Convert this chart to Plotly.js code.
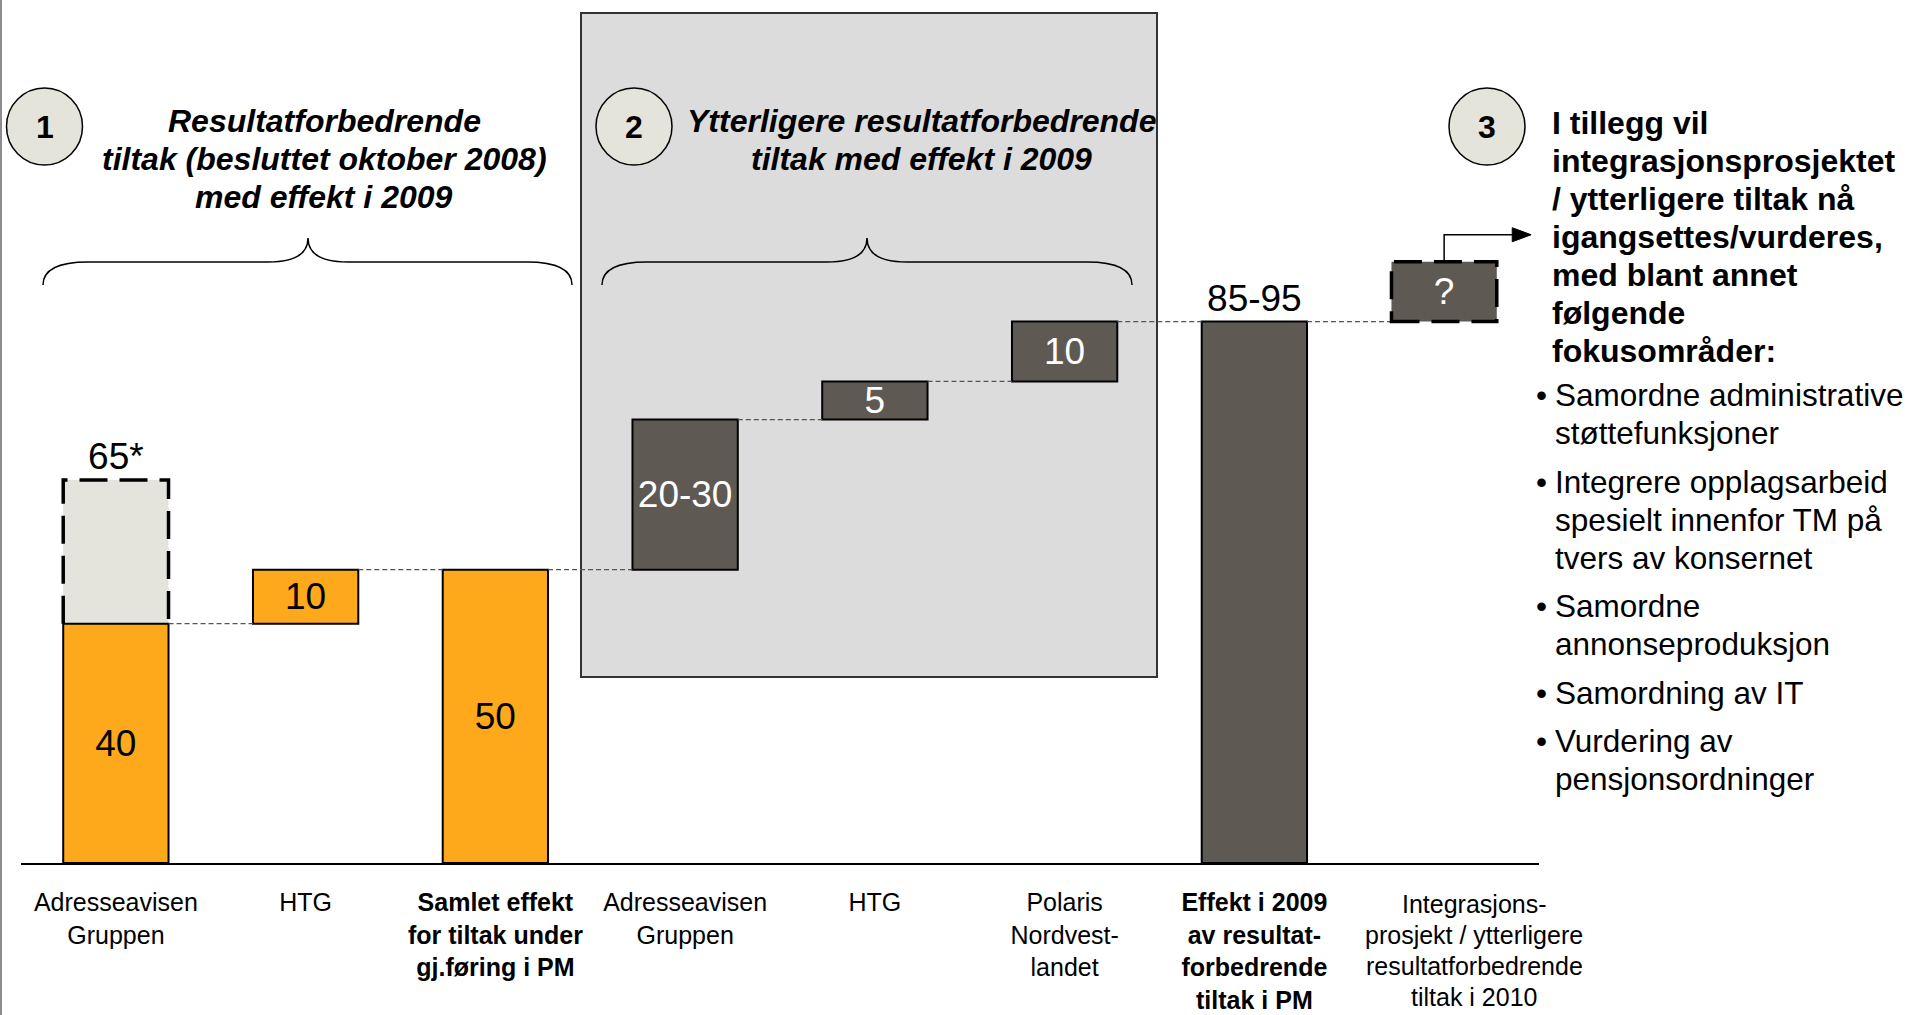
<!DOCTYPE html>
<html><head><meta charset="utf-8">
<script src="https://cdn.plot.ly/plotly-3.0.1.min.js"></script>
<style>html,body{margin:0;padding:0;background:#fff;}#chart{width:1915px;height:1015px;}</style>
</head><body><div id="chart"></div>
<script>
// ---------------- DATA ----------------
const categories = [
  'Adresseavisen<br>Gruppen',
  'HTG',
  '<b>Samlet effekt<br>for tiltak under<br>gj.føring i PM</b>',
  'Adresseavisen<br>Gruppen',
  'HTG',
  'Polaris<br>Nordvest-<br>landet',
  '<b>Effekt i 2009<br>av resultat-<br>forbedrende<br>tiltak i PM</b>',
  'Integrasjons-<br>prosjekt / ytterligere<br>resultatforbedrende<br>tiltak i 2010'
];
const measures = ['absolute','relative','total','relative','relative','relative','total','relative'];
const values = [40.8, 9.2, 50, 25.6, 6.5, 10.2, 92.3, 10.2];
const valueLabels = ['40','10','50','20-30','5','10','85-95','?'];
const series = ['besluttet','besluttet','besluttet','ytterligere','ytterligere','ytterligere','total','integrasjon'];
const uncertain = [false,false,false,false,false,false,false,true];
const potentialTotal = 65.3;      // dashed "65*" bar on Adresseavisen Gruppen
const potentialLabel = '65*';

const title1Lines = ['Resultatforbedrende','tiltak (besluttet oktober 2008)','med effekt i 2009'];
const title2Lines = ['Ytterligere resultatforbedrende','tiltak med effekt i 2009'];
const sideHeading = ['I tillegg vil','integrasjonsprosjektet','/ ytterligere tiltak nå','igangsettes/vurderes,','med blant annet','følgende','fokusområder:'];
const sideBullets = [
  ['Samordne administrative','støttefunksjoner'],
  ['Integrere opplagsarbeid','spesielt innenfor TM på','tvers av konsernet'],
  ['Samordne','annonseproduksjon'],
  ['Samordning av IT'],
  ['Vurdering av','pensjonsordninger']
];

// ---------------- STYLE / LAYOUT ----------------
const FONT = 'Liberation Sans, Arial, Helvetica, sans-serif';
const W = 1915, H = 1015, ML = 21, MR = 376, MT = 0, MB = 152;
const PW = W - ML - MR, PH = H - MT - MB;
const PX_PER_UNIT = 5.866;
const YMAX = PH / PX_PER_UNIT;
const BW = 0.555;
const colorMap = {besluttet:'#FDA91B', ytterligere:'#5F5954', total:'#5F5954', integrasjon:'#5F5954'};
const px = x => (x - ML) / PW;
const py = y => (MT + PH - y) / PH;

// waterfall bases
const xs = categories.map((_, i) => i);
const bases = [], tops = [];
let running = 0;
measures.forEach((m, i) => {
  if (m === 'absolute') { bases.push(0); running = values[i]; }
  else if (m === 'relative') { bases.push(running); running += values[i]; }
  else { bases.push(0); running = values[i]; }
  tops.push(bases[i] + values[i]);
});

const textPos = series.map(s => s === 'total' ? 'outside' : 'inside');
const textCol = series.map((s, i) => (s === 'besluttet' || textPos[i] === 'outside') ? '#000' : '#fff');

const ghost = {
  type: 'bar', x: [0], base: [tops[0]], y: [potentialTotal - tops[0]], width: BW,
  marker: {color: '#E4E4DC', line: {width: 0}},
  text: [potentialLabel], textposition: 'outside', textangle: 0,
  textfont: {family: FONT, size: 37, color: '#000'}, constraintext: 'none',
  cliponaxis: false, hoverinfo: 'skip', showlegend: false
};
const main = {
  type: 'bar', x: xs, base: bases, y: values, width: BW,
  marker: {color: series.map(s => colorMap[s]),
           line: {color: '#000', width: uncertain.map(u => u ? 0 : 2)}},
  text: valueLabels, textposition: textPos, insidetextanchor: 'middle', textangle: 0,
  textfont: {family: FONT, size: 37, color: textCol}, constraintext: 'none',
  cliponaxis: false, hoverinfo: 'skip', showlegend: false
};

const shapes = [];
// left page border
shapes.push({type:'line', xref:'paper', yref:'paper', x0:px(1), x1:px(1), y0:py(0), y1:py(H), line:{color:'#8c8c8c', width:2}});
// grey box for phase 2
shapes.push({type:'rect', layer:'below', xref:'paper', yref:'paper', x0:px(581), x1:px(1157), y0:py(677), y1:py(13),
  fillcolor:'#DCDCDC', line:{color:'#333', width:2}});
// braces
function bracePath(x0, x1, xm, yEnd, yMid, yTip) {
  const r = 45, t = 40;
  const X = px, Y = py;
  return `M${X(x0)},${Y(yEnd)} Q${X(x0)},${Y(yMid)} ${X(x0+r)},${Y(yMid)} L${X(xm-t)},${Y(yMid)} ` +
         `Q${X(xm)},${Y(yMid)} ${X(xm)},${Y(yTip)} Q${X(xm)},${Y(yMid)} ${X(xm+t)},${Y(yMid)} ` +
         `L${X(x1-r)},${Y(yMid)} Q${X(x1)},${Y(yMid)} ${X(x1)},${Y(yEnd)}`;
}
shapes.push({type:'path', xref:'paper', yref:'paper', path: bracePath(43, 572, 308, 285, 262, 238), line:{color:'#000', width:1.5}});
shapes.push({type:'path', xref:'paper', yref:'paper', path: bracePath(602, 1132, 867, 285, 262, 238), line:{color:'#000', width:1.5}});
// numbered circles
const circles = [[44.5, 126.5, '1'], [634, 126.5, '2'], [1487, 126.5, '3']];
circles.forEach(c => shapes.push({type:'circle', xref:'paper', yref:'paper',
  x0:px(c[0]-38), x1:px(c[0]+38), y0:py(c[1]+38.5), y1:py(c[1]-38.5),
  fillcolor:'#E4E4DA', line:{color:'#000', width:1.5}}));
// connectors
for (let i = 0; i < xs.length - 1; i++) {
  shapes.push({type:'line', xref:'x', yref:'y', x0: xs[i] + BW/2, x1: xs[i+1] - BW/2, y0: tops[i], y1: tops[i],
    line:{color:'#555', width:1.2, dash:'5px,3px'}});
}
// dashed outline of potential bar
shapes.push({type:'path', xref:'x', yref:'y',
  path:`M${xs[0]-BW/2},${tops[0]} L${xs[0]-BW/2},${potentialTotal} L${xs[0]+BW/2},${potentialTotal} L${xs[0]+BW/2},${tops[0]}`,
  line:{color:'#000', width:3.5, dash:'28px,12px'}});
// dashed outlines of uncertain bars
xs.forEach(i => { if (uncertain[i]) shapes.push({type:'rect', xref:'x', yref:'y',
  x0: i - BW/2, x1: i + BW/2, y0: bases[i], y1: tops[i], line:{color:'#000', width:3.5, dash:'28px,12px'}}); });
// elbow arrow from "?" bar to the side text
const last = xs.length - 1;
const arrowY = tops[last] + 27 / PX_PER_UNIT;
const arrowEnd = last + 70 / (PW / xs.length);
const arrowTip = last + 87 / (PW / xs.length);
const headH = 7 / PX_PER_UNIT;
shapes.push({type:'path', xref:'x', yref:'y', path:`M${last},${tops[last]} L${last},${arrowY} L${arrowEnd},${arrowY}`,
  line:{color:'#000', width:1.5}});
shapes.push({type:'path', xref:'x', yref:'y', path:`M${arrowEnd-0.01},${arrowY-headH} L${arrowTip},${arrowY} L${arrowEnd-0.01},${arrowY+headH} Z`,
  fillcolor:'#000', line:{color:'#000', width:1}});

// annotations
const ann = [];
circles.forEach(c => ann.push({xref:'paper', yref:'paper', x:px(c[0]), y:py(c[1]+1), text:c[2], showarrow:false,
  xanchor:'center', yanchor:'middle', font:{family:FONT, size:32, weight:'bold', color:'#000'}}));
title1Lines.forEach((t, k) => ann.push({xref:'paper', yref:'paper', x:px(324), y:py(121 + 38*k), text:t, showarrow:false,
  xanchor:'center', yanchor:'middle', font:{family:FONT, size:32, weight:'bold', style:'italic', color:'#000'}}));
title2Lines.forEach((t, k) => ann.push({xref:'paper', yref:'paper', x:px(921), y:py(121 + 38*k), text:t, showarrow:false,
  xanchor:'center', yanchor:'middle', font:{family:FONT, size:32, weight:'bold', style:'italic', color:'#000'}}));
sideHeading.forEach((t, k) => ann.push({xref:'paper', yref:'paper', x:px(1550), y:py(123 + 38*k), text:t, showarrow:false,
  xanchor:'left', yanchor:'middle', font:{family:FONT, size:32, weight:'bold', color:'#000'}}));
let by = 395;
sideBullets.forEach(lines => {
  ann.push({xref:'paper', yref:'paper', x:px(1534), y:py(by), text:'•', showarrow:false,
    xanchor:'left', yanchor:'middle', font:{family:FONT, size:31.5, color:'#000'}});
  lines.forEach(t => {
    ann.push({xref:'paper', yref:'paper', x:px(1553), y:py(by), text:t, showarrow:false,
      xanchor:'left', yanchor:'middle', font:{family:FONT, size:31.5, color:'#000'}});
    by += 38;
  });
  by += 10.5;
});
// last category label (placed slightly right of its bar, as in the original), one line per annotation
categories[last].split('<br>').forEach((t, k) => ann.push({xref:'x', yref:'paper', x:last, xshift:30,
  y:py(904 + 31*k), yanchor:'middle', xanchor:'center', text:t, showarrow:false,
  font:{family:FONT, size:25, color:'#000'}}));

const layout = {
  width: W, height: H, margin: {l: ML, r: MR, t: MT, b: MB, pad: 0},
  paper_bgcolor: '#fff', plot_bgcolor: 'rgba(0,0,0,0)',
  barmode: 'overlay', showlegend: false,
  xaxis: {range: [-0.5, xs.length - 0.5], tickvals: xs, ticktext: categories.map((c, i) => i === last ? '' : c),
    showgrid: false, zeroline: false, showline: true, linecolor: '#000', linewidth: 2, ticks: '',
    ticklabelstandoff: 16,
    tickfont: {family: FONT, size: 25, color: '#000'}, fixedrange: true},
  yaxis: {range: [0, YMAX], visible: false, showgrid: false, zeroline: false, fixedrange: true},
  shapes: shapes, annotations: ann
};
Plotly.newPlot('chart', [ghost, main], layout, {displayModeBar: false, staticPlot: true});
</script></body></html>
